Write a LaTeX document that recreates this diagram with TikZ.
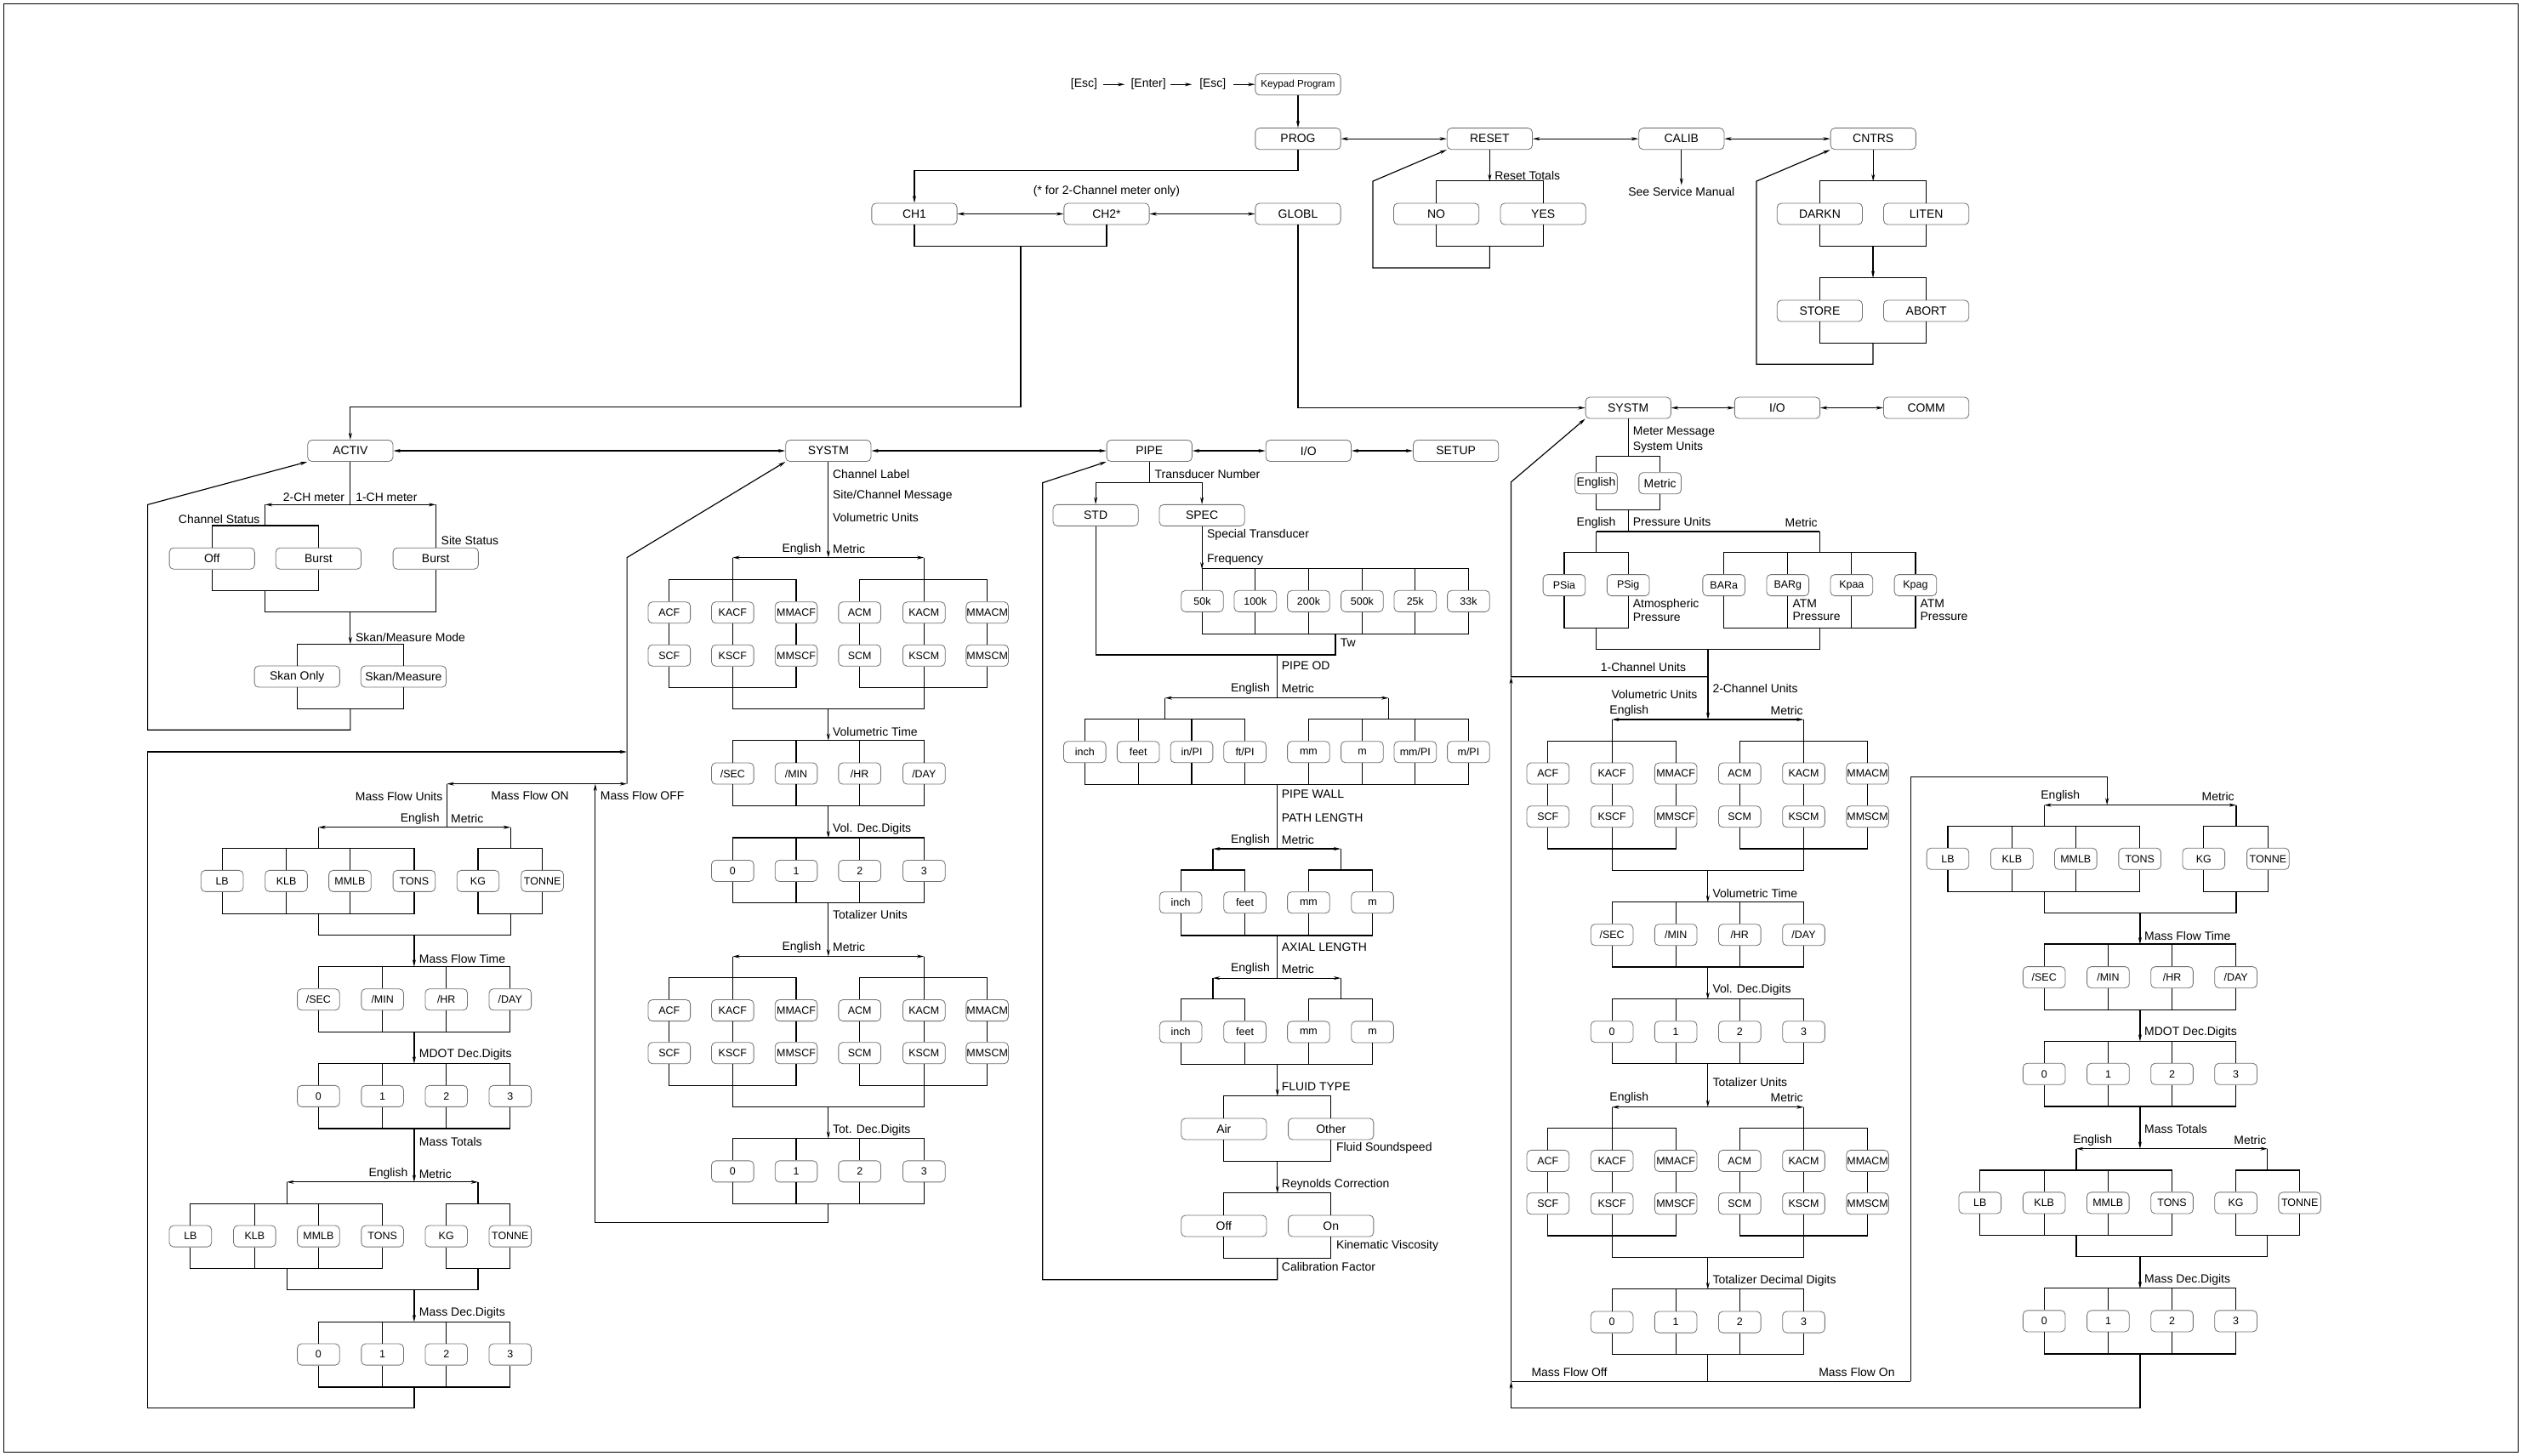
\documentclass[tikz,border=0pt]{standalone}
\usepackage{fontspec}
\setmainfont{Liberation Sans}
\usetikzlibrary{arrows.meta}

\begin{document}
\begin{tikzpicture}[x=0.04cm,y=-0.04cm,>={Stealth[length=5pt,width=2.4pt]},line width=0.7pt,
  menu node/.style={draw=black!55,line width=0.5pt,fill=white,rounded corners=3pt,minimum width=2.12cm,
    minimum height=0.53cm,inner sep=0pt,font=\fontsize{8.4}{10}\selectfont},
  unit node/.style={menu node,minimum width=1.05cm,font=\fontsize{7.5}{9}\selectfont},
  note/.style={inner sep=0pt,font=\fontsize{8.4}{9.5}\selectfont},
  left note/.style={note,anchor=west},
  right note/.style={note,anchor=east}]

  \useasboundingbox (0,0) rectangle (1568,905.3);
  \draw[line width=0.8pt] (2.5,2.5) rectangle (1565.5,903);

  % top level
  \node[note] (esc1) at (674,52.5) {[Esc]};
  \node[note] (enter) at (714,52.5) {[Enter]};
  \node[note] (esc2) at (754,52.5) {[Esc]};
  \node[menu node,font=\fontsize{7}{8}\selectfont] (keypad) at (807,52.5) {Keypad Program};
  \node[menu node] (prog) at (807,86.3) {PROG};
  \node[menu node] (reset) at (926.2,86.3) {RESET};
  \node[menu node] (calib) at (1045.4,86.3) {CALIB};
  \node[menu node] (cntrs) at (1164.6,86.3) {CNTRS};
  \node[note] (twoch) at (688,119) {(* for 2-Channel meter only)};
  \node[menu node] (ch1) at (568.5,133) {CH1};
  \node[menu node] (ch2) at (688,133) {CH2*};
  \node[menu node] (globl) at (807,133) {GLOBL};
  \node[left note] (resettot) at (929,109) {Reset Totals};
  \node[menu node] (no) at (893,133) {NO};
  \node[menu node] (yes) at (959.4,133) {YES};
  \node[note,inner sep=1.5pt] (seeman) at (1045.4,119.5) {See Service Manual};
  \node[menu node] (darkn) at (1131.4,133) {DARKN};
  \node[menu node] (liten) at (1197.6,133) {LITEN};
  \node[menu node] (store) at (1131.4,193.3) {STORE};
  \node[menu node] (abort) at (1197.6,193.3) {ABORT};

  \node[menu node] (activ) at (217.8,280.3) {ACTIV};
  \node[menu node] (systm) at (515,280.3) {SYSTM};
  \node[menu node] (pipe) at (714.6,280.3) {PIPE};
  \node[menu node] (io) at (813.5,280.3) {I/O};
  \node[menu node] (setup) at (905.2,280.3) {SETUP};
  \node[menu node] (gsystm) at (1012.3,253.6) {SYSTM};
  \node[menu node] (gio) at (1105,253.6) {I/O};
  \node[menu node] (comm) at (1197.6,253.6) {COMM};

  \path[->] (esc1) edge[shorten <=4pt,shorten >=4pt] (enter)
    (enter) edge[shorten <=3pt,shorten >=5pt] (esc2)
    (esc2) edge[shorten <=5pt] (keypad)
    (keypad) edge (prog);
  \path[<->] (prog) edge (reset) (reset) edge (calib) (calib) edge (cntrs)
    (ch1) edge (ch2) (ch2) edge (globl)
    (activ) edge (systm) (systm) edge (pipe) (pipe) edge (io) (io) edge (setup)
    (gsystm) edge (gio) (gio) edge (comm);

  \coordinate (chjoin) at (634.6,153);
  \draw[->] (prog.south) -- ++(0,13.1) -| (ch1.north);
  \draw (ch1.south) -- ++(0,13.35) -| (ch2.south);
  \draw[->] (chjoin) -- ++(0,100) -| (activ.north);
  \draw[->] (globl.south) |- (gsystm.west);

  \coordinate (resetjoin) at (926.2,153);
  \coordinate (resetback) at (853.5,112.7);
  \draw[->] (reset.south) -- ++(0,19.6);
  \draw (no.north) -- ++(0,-13.9) -| (yes.north);
  \draw (no.south) -- ++(0,13.35) -| (yes.south);
  \draw[->] (resetjoin) -- ++(0,13.6) -| (resetback) -- (reset.south west);
  \draw[->] (calib.south) -- (seeman.north);

  \coordinate (cntrsjoin) at (1164.5,153);
  \coordinate (storejoin) at (1164.5,213.3);
  \coordinate (cntrsback) at (1092,112.7);
  \draw[->] (cntrs.south) -- ++(0,19.6);
  \draw (darkn.north) -- ++(0,-13.9) -| (liten.north);
  \draw (darkn.south) -- ++(0,13.35) -| (liten.south);
  \draw[->] (cntrsjoin) -- ++(0,19.8);
  \draw (store.north) -- ++(0,-13.85) -| (abort.north);
  \draw (store.south) -- ++(0,13.35) -| (abort.south);
  \draw[->] (storejoin) -- ++(0,13.2) -| (cntrsback) -- (cntrs.south west);

  % ACTIV
  \node[right note] (ch2lbl) at (214.5,309.4) {2-CH meter};
  \node[left note] (ch1lbl) at (220.9,309.4) {1-CH meter};
  \node[right note] (chstat) at (161.8,323) {Channel Status};
  \node[left note] (sitestat) at (274,336.3) {Site Status};
  \node[menu node] (chnoff) at (131.8,347.3) {Off};
  \node[menu node] (chnburst) at (198,347.3) {Burst};
  \node[menu node] (siteburst) at (270.9,347.3) {Burst};
  \node[left note] (skanmode) at (220.8,396.6) {Skan/Measure Mode};
  \node[menu node] (skanonly) at (184.7,420.7) {Skan Only};
  \node[menu node] (skanmeas) at (250.9,420.7) {Skan/Measure};

  \coordinate (meter2) at (164.9,313.8);
  \coordinate (meter1) at (270.9,313.8);
  \coordinate (statusjoin) at (164.9,367.2);
  \coordinate (modejoin) at (217.8,380.4);
  \coordinate (skanjoin) at (217.8,440.7);
  \coordinate (activback) at (91.8,313.8);
  \draw (activ.south) -- (activ.south |- meter2);
  \draw[<->] (meter2) -- (meter1);
  \draw (meter2) -- ++(0,13.2) (meter1) -- (siteburst.north);
  \draw (chnoff.north) -- ++(0,-13.6) -| (chnburst.north);
  \draw (chnoff.south) -- ++(0,13.2) -| (chnburst.south);
  \draw (statusjoin) -- ++(0,13.2) -| (siteburst.south);
  \draw[->] (modejoin) -- ++(0,20.1);
  \draw (skanonly.north) -- ++(0,-13.4) -| (skanmeas.north);
  \draw (skanonly.south) -- ++(0,13.35) -| (skanmeas.south);
  \draw[->] (skanjoin) -- ++(0,13.2) -| (activback) -- (activ.south west);

  % mass flow, channel
  \node[right note] (mfunits) at (275.5,495) {Mass Flow Units};
  \node[note] (mfonlbl) at (329.5,494.5) {Mass Flow ON};
  \node[left note] (mfofflbl) at (373,494.5) {Mass Flow OFF};
  \node[right note] (meng) at (273.5,509) {English};
  \node[left note] (mmet) at (280.1,509) {Metric};
  \node[unit node] (mlb) at (138.1,547.8) {LB};
  \node[unit node] (mklb) at (178,547.8) {KLB};
  \node[unit node] (mmmlb) at (217.6,547.8) {MMLB};
  \node[unit node] (mtons) at (257.5,547.8) {TONS};
  \node[unit node] (mkg) at (297.2,547.8) {KG};
  \node[unit node] (mtonne) at (337.2,547.8) {TONNE};
  \node[left note] (mtimelbl) at (260.4,596) {Mass Flow Time};
  \node[unit node] (msec) at (198,621.5) {/SEC};
  \node[unit node] (mmin) at (237.8,621.5) {/MIN};
  \node[unit node] (mhr) at (277.5,621.5) {/HR};
  \node[unit node] (mday) at (317.2,621.5) {/DAY};
  \node[left note] (mdotlbl) at (260.4,655.7) {MDOT Dec.Digits};
  \node[unit node] (mdot0) at (198,681.6) {0};
  \node[unit node] (mdot1) at (237.8,681.6) {1};
  \node[unit node] (mdot2) at (277.5,681.6) {2};
  \node[unit node] (mdot3) at (317.2,681.6) {3};
  \node[left note] (mtotlbl) at (260.4,709.9) {Mass Totals};
  \node[right note] (mteng) at (253.8,729.8) {English};
  \node[left note] (mtmet) at (260.3,729.8) {Metric};
  \node[unit node] (mtlb) at (118.4,768.7) {LB};
  \node[unit node] (mtklb) at (158.3,768.7) {KLB};
  \node[unit node] (mtmmlb) at (198,768.7) {MMLB};
  \node[unit node] (mttons) at (237.8,768.7) {TONS};
  \node[unit node] (mtkg) at (277.5,768.7) {KG};
  \node[unit node] (mttonne) at (317.2,768.7) {TONNE};
  \node[left note] (mdeclbl) at (260.4,816.7) {Mass Dec.Digits};
  \node[unit node] (mdec0) at (198,842.2) {0};
  \node[unit node] (mdec1) at (237.8,842.2) {1};
  \node[unit node] (mdec2) at (277.5,842.2) {2};
  \node[unit node] (mdec3) at (317.2,842.2) {3};

  \coordinate (mfoff) at (389.8,487.4);
  \coordinate (mfon) at (277.9,487.4);
  \coordinate (mfdiag) at (389.8,346.7);
  \coordinate (mfret) at (389.8,467.5);
  \coordinate (mengtop) at (198,514.4);
  \coordinate (mmettop) at (317.4,514.4);
  \coordinate (mengbot) at (198,568);
  \coordinate (mmetbot) at (317.4,568);
  \coordinate (mtimejoin) at (257.5,581.3);
  \coordinate (mdotjoin) at (257.5,641.6);
  \coordinate (mtotjoin) at (257.5,701.6);
  \coordinate (mteng1) at (178.3,735);
  \coordinate (mtmet1) at (297.2,735);
  \coordinate (mteng2) at (178.3,788.6);
  \coordinate (mtmet2) at (297.2,788.6);
  \coordinate (mdecjoin) at (257.5,802);
  \coordinate (mbackjoin) at (257.5,862.4);
  \coordinate (mback) at (91.8,467.5);
  \draw[->] (mfoff) -- (mfdiag) -- (systm.south west);
  \draw[<->] (mfon) -- (mfoff);
  \draw (mfon) -- (mfon |- mengtop);
  \draw[<->] (mengtop) -- (mmettop);
  \draw (mengtop) -- ++(0,13.25) (mmettop) -- ++(0,13.25);
  \draw (mlb.north) -- ++(0,-13.5) -| (mtons.north) (mklb.north) -- ++(0,-13.5) (mmmlb.north) -- ++(0,-13.5);
  \draw (mkg.north) -- ++(0,-13.5) -| (mtonne.north);
  \draw (mlb.south) -- ++(0,13.5) -| (mtons.south) (mklb.south) -- ++(0,13.5) (mmmlb.south) -- ++(0,13.5);
  \draw (mkg.south) -- ++(0,13.5) -| (mtonne.south);
  \draw (mengbot) -- ++(0,13.3) -| (mmetbot);
  \draw[->] (mtimejoin) -- ++(0,19.8);
  \draw (msec.north) -- ++(0,-13.5) -| (mday.north) (mmin.north) -- ++(0,-13.5) (mhr.north) -- ++(0,-13.5);
  \draw (msec.south) -- ++(0,13.45) -| (mday.south) (mmin.south) -- ++(0,13.45) (mhr.south) -- ++(0,13.45);
  \draw[->] (mdotjoin) -- ++(0,19.8);
  \draw (mdot0.north) -- ++(0,-13.5) -| (mdot3.north) (mdot1.north) -- ++(0,-13.5) (mdot2.north) -- ++(0,-13.5);
  \draw (mdot0.south) -- ++(0,13.35) -| (mdot3.south) (mdot1.south) -- ++(0,13.35) (mdot2.south) -- ++(0,13.35);
  \draw[->] (mtotjoin) -- ++(0,33.4);
  \draw[<->] (mteng1) -- (mtmet1);
  \draw (mteng1) -- ++(0,13.55) (mtmet1) -- ++(0,13.55);
  \draw (mtlb.north) -- ++(0,-13.5) -| (mttons.north) (mtklb.north) -- ++(0,-13.5) (mtmmlb.north) -- ++(0,-13.5);
  \draw (mtkg.north) -- ++(0,-13.5) -| (mttonne.north);
  \draw (mtlb.south) -- ++(0,13.25) -| (mttons.south) (mtklb.south) -- ++(0,13.25) (mtmmlb.south) -- ++(0,13.25);
  \draw (mtkg.south) -- ++(0,13.25) -| (mttonne.south);
  \draw (mteng2) -- ++(0,13.4) -| (mtmet2);
  \draw[->] (mdecjoin) -- ++(0,20);
  \draw (mdec0.north) -- ++(0,-13.5) -| (mdec3.north) (mdec1.north) -- ++(0,-13.5) (mdec2.north) -- ++(0,-13.5);
  \draw (mdec0.south) -- ++(0,13.5) -| (mdec3.south) (mdec1.south) -- ++(0,13.5) (mdec2.south) -- ++(0,13.5);
  \draw[->] (mbackjoin) -- ++(0,13.2) -| (mback) -- (mfret);

  % SYSTM, channel
  \node[left note] (chlabel) at (517.5,294.7) {Channel Label};
  \node[left note] (sitemsg) at (517.5,308.5) {Site/Channel Message};
  \node[left note] (volunits) at (517.5,321.7) {Volumetric Units};
  \node[right note] (veng) at (510.8,341.6) {English};
  \node[left note] (vmet) at (517.5,341.6) {Metric};
  \node[unit node] (vacf) at (416.1,380.9) {ACF};
  \node[unit node] (vkacf) at (455.5,380.9) {KACF};
  \node[unit node] (vmmacf) at (495,380.9) {MMACF};
  \node[unit node] (vacm) at (534.5,380.9) {ACM};
  \node[unit node] (vkacm) at (574.5,380.9) {KACM};
  \node[unit node] (vmmacm) at (613.8,380.9) {MMACM};
  \node[unit node] (vscf) at (416.1,407.6) {SCF};
  \node[unit node] (vkscf) at (455.5,407.6) {KSCF};
  \node[unit node] (vmmscf) at (495,407.6) {MMSCF};
  \node[unit node] (vscm) at (534.5,407.6) {SCM};
  \node[unit node] (vkscm) at (574.5,407.6) {KSCM};
  \node[unit node] (vmmscm) at (613.8,407.6) {MMSCM};
  \node[left note] (vtimelbl) at (517.5,455.3) {Volumetric Time};
  \node[unit node] (vsec) at (455.5,481) {/SEC};
  \node[unit node] (vmin) at (495,481) {/MIN};
  \node[unit node] (vhr) at (534.5,481) {/HR};
  \node[unit node] (vday) at (574.5,481) {/DAY};
  \node[left note] (vdeclbl) at (517.5,515.6) {Vol. Dec.Digits};
  \node[unit node] (vdig0) at (455.5,541.5) {0};
  \node[unit node] (vdig1) at (495,541.5) {1};
  \node[unit node] (vdig2) at (534.5,541.5) {2};
  \node[unit node] (vdig3) at (574.5,541.5) {3};
  \node[left note] (ttotlbl) at (517.5,569) {Totalizer Units};
  \node[right note] (teng) at (510.8,589) {English};
  \node[left note] (tmet) at (517.5,589) {Metric};
  \node[unit node] (tacf) at (416.1,628.3) {ACF};
  \node[unit node] (tkacf) at (455.5,628.3) {KACF};
  \node[unit node] (tmmacf) at (495,628.3) {MMACF};
  \node[unit node] (tacm) at (534.5,628.3) {ACM};
  \node[unit node] (tkacm) at (574.5,628.3) {KACM};
  \node[unit node] (tmmacm) at (613.8,628.3) {MMACM};
  \node[unit node] (tscf) at (416.1,654.8) {SCF};
  \node[unit node] (tkscf) at (455.5,654.8) {KSCF};
  \node[unit node] (tmmscf) at (495,654.8) {MMSCF};
  \node[unit node] (tscm) at (534.5,654.8) {SCM};
  \node[unit node] (tkscm) at (574.5,654.8) {KSCM};
  \node[unit node] (tmmscm) at (613.8,654.8) {MMSCM};
  \node[left note] (tdeclbl) at (517.5,703) {Tot. Dec.Digits};
  \node[unit node] (tdig0) at (455.5,728.4) {0};
  \node[unit node] (tdig1) at (495,728.4) {1};
  \node[unit node] (tdig2) at (534.5,728.4) {2};
  \node[unit node] (tdig3) at (574.5,728.4) {3};

  \coordinate (vunits) at (515,346.7);
  \coordinate (vengtop) at (455.5,346.7);
  \coordinate (vmettop) at (574.5,346.7);
  \coordinate (vtimejoin) at (515,440.7);
  \coordinate (vdecjoin) at (515,500.9);
  \coordinate (ttotjoin) at (515,561.1);
  \coordinate (tengtop) at (455.5,594.7);
  \coordinate (tmettop) at (574.5,594.7);
  \coordinate (tdecjoin) at (515,688.2);
  \coordinate (vmassjoin) at (515,748.3);
  \coordinate (mfoffup) at (370.1,487.4);
  \draw[->] (systm.south) -- (vunits);
  \draw[<->] (vengtop) -- (vmettop);
  \draw (vengtop) -- (vkacf.north) (vmettop) -- (vkacm.north);
  \draw (vacf.north) -- ++(0,-13.75) -| (vmmacf.north);
  \draw (vacm.north) -- ++(0,-13.75) -| (vmmacm.north);
  \draw (vacf) -- (vscf) (vkacf) -- (vkscf) (vmmacf) -- (vmmscf) (vacm) -- (vscm) (vkacm) -- (vkscm) (vmmacm) -- (vmmscm);
  \draw (vscf.south) -- ++(0,13.25) -| (vmmscf.south);
  \draw (vscm.south) -- ++(0,13.25) -| (vmmscm.south);
  \draw (vkscf.south) -- ++(0,26.45) -| (vkscm.south);
  \draw[->] (vtimejoin) -- ++(0,19.8);
  \draw (vsec.north) -- ++(0,-13.9) -| (vday.north) (vmin.north) -- ++(0,-13.9) (vhr.north) -- ++(0,-13.9);
  \draw (vsec.south) -- ++(0,13.3) -| (vday.south) (vmin.south) -- ++(0,13.3) (vhr.south) -- ++(0,13.3);
  \draw[->] (vdecjoin) -- ++(0,20.2);
  \draw (vdig0.north) -- ++(0,-13.75) -| (vdig3.north) (vdig1.north) -- ++(0,-13.75) (vdig2.north) -- ++(0,-13.75);
  \draw (vdig0.south) -- ++(0,12.95) -| (vdig3.south) (vdig1.south) -- ++(0,12.95) (vdig2.south) -- ++(0,12.95);
  \draw[->] (ttotjoin) -- ++(0,33.6);
  \draw[<->] (tengtop) -- (tmettop);
  \draw (tengtop) -- (tkacf.north) (tmettop) -- (tkacm.north);
  \draw (tacf.north) -- ++(0,-13.75) -| (tmmacf.north);
  \draw (tacm.north) -- ++(0,-13.75) -| (tmmacm.north);
  \draw (tacf) -- (tscf) (tkacf) -- (tkscf) (tmmacf) -- (tmmscf) (tacm) -- (tscm) (tkacm) -- (tkscm) (tmmacm) -- (tmmscm);
  \draw (tscf.south) -- ++(0,13.55) -| (tmmscf.south);
  \draw (tscm.south) -- ++(0,13.55) -| (tmmscm.south);
  \draw (tkscf.south) -- ++(0,26.75) -| (tkscm.south);
  \draw[->] (tdecjoin) -- ++(0,19.8);
  \draw (tdig0.north) -- ++(0,-13.75) -| (tdig3.north) (tdig1.north) -- ++(0,-13.75) (tdig2.north) -- ++(0,-13.75);
  \draw (tdig0.south) -- ++(0,13.25) -| (tdig3.south) (tdig1.south) -- ++(0,13.25) (tdig2.south) -- ++(0,13.25);
  \draw[->] (vmassjoin) -- ++(0,11.7) -| (mfoffup);

  % PIPE
  \node[left note] (tnumlbl) at (717.7,294.7) {Transducer Number};
  \node[menu node] (std) at (681.2,320.4) {STD};
  \node[menu node] (spec) at (747.3,320.4) {SPEC};
  \node[left note] (speclbl) at (750.2,332.8) {Special Transducer};
  \node[left note] (freqlbl) at (750.2,348.1) {Frequency};
  \node[unit node] (f50) at (747.5,373.8) {50k};
  \node[unit node] (f100) at (780.5,373.8) {100k};
  \node[unit node] (f200) at (813.6,373.8) {200k};
  \node[unit node] (f500) at (846.9,373.8) {500k};
  \node[unit node] (f25) at (879.9,373.8) {25k};
  \node[unit node] (f33) at (913,373.8) {33k};
  \node[left note] (twlbl) at (833,399.8) {Tw};
  \node[left note] (odlbl) at (796.6,413.7) {PIPE OD};
  \node[right note] (odeng) at (789.8,428.3) {English};
  \node[left note] (odmet) at (796.6,428.3) {Metric};
  \node[unit node] (odinch) at (674.4,467.6) {inch};
  \node[unit node] (odfeet) at (707.7,467.6) {feet};
  \node[unit node] (odinpi) at (740.9,467.6) {in/PI};
  \node[unit node] (odftpi) at (774,467.6) {ft/PI};
  \node[unit node] (odmm) at (813.6,467.6) {mm};
  \node[unit node] (odm) at (846.9,467.6) {m};
  \node[unit node] (odmmpi) at (879.9,467.6) {mm/PI};
  \node[unit node] (odmpi) at (913,467.6) {m/PI};
  \node[left note] (walllbl) at (796.6,493.6) {PIPE WALL};
  \node[left note] (pathlbl) at (796.6,508.8) {PATH LENGTH};
  \node[right note] (pleng) at (789.8,522.2) {English};
  \node[left note] (plmet) at (796.6,522.2) {Metric};
  \node[unit node] (plinch) at (734.1,561.2) {inch};
  \node[unit node] (plfeet) at (774,561.2) {feet};
  \node[unit node] (plmm) at (813.6,561.2) {mm};
  \node[unit node] (plm) at (853.3,561.2) {m};
  \node[left note] (axiallbl) at (796.6,589.1) {AXIAL LENGTH};
  \node[right note] (aleng) at (789.8,602.5) {English};
  \node[left note] (almet) at (796.6,602.5) {Metric};
  \node[unit node] (alinch) at (734.1,641.7) {inch};
  \node[unit node] (alfeet) at (774,641.7) {feet};
  \node[unit node] (almm) at (813.6,641.7) {mm};
  \node[unit node] (alm) at (853.3,641.7) {m};
  \node[left note] (fluidlbl) at (796.6,675.8) {FLUID TYPE};
  \node[menu node] (air) at (760.9,702) {Air};
  \node[menu node] (other) at (827.5,702) {Other};
  \node[left note] (soundlbl) at (830.5,714.1) {Fluid Soundspeed};
  \node[left note] (reylbl) at (796.6,736.4) {Reynolds Correction};
  \node[menu node] (reyoff) at (760.9,762.3) {Off};
  \node[menu node] (reyon) at (827.5,762.3) {On};
  \node[left note] (kinlbl) at (830.5,774.6) {Kinematic Viscosity};
  \node[left note] (callbl) at (796.6,787.9) {Calibration Factor};

  \coordinate (tnum) at (714.6,300.2);
  \coordinate (twjoin) at (830.3,394);
  \coordinate (odjoin) at (794.2,407.2);
  \coordinate (odengtop) at (724.3,434);
  \coordinate (odmettop) at (863.3,434);
  \coordinate (pljoin) at (794.2,487.6);
  \coordinate (plengtop) at (754.1,527.8);
  \coordinate (plmettop) at (833.6,527.8);
  \coordinate (aljoin) at (794.2,581.5);
  \coordinate (alengtop) at (754.1,608.2);
  \coordinate (almettop) at (833.6,608.2);
  \coordinate (fluidjoin) at (794.2,661.6);
  \coordinate (reyjoin) at (794.2,722);
  \coordinate (calfjoin) at (794.2,782.1);
  \coordinate (pipeback) at (648.2,300.2);
  \draw (pipe.south) -- (tnum);
  \draw[->] (tnum) -| (std.north);
  \draw[->] (tnum) -| (spec.north);
  \draw[->] (spec.south) -- ++(0,26.75);
  \draw (f50.north) -- ++(0,-13.4) -| (f33.north) (f100.north) -- ++(0,-13.4) (f200.north) -- ++(0,-13.4)
    (f500.north) -- ++(0,-13.4) (f25.north) -- ++(0,-13.4);
  \draw (f50.south) -- ++(0,13.55) -| (f33.south) (f100.south) -- ++(0,13.55) (f200.south) -- ++(0,13.55)
    (f500.south) -- ++(0,13.55) (f25.south) -- ++(0,13.55);
  \draw (twjoin) -- ++(0,13.2) -| (std.south);
  \draw (odjoin) -- (odjoin |- odengtop);
  \draw[<->] (odengtop) -- (odmettop);
  \draw (odengtop) -- ++(0,13.4) (odmettop) -- ++(0,13.4);
  \draw (odinch.north) -- ++(0,-13.55) -| (odftpi.north) (odfeet.north) -- ++(0,-13.55) (odinpi.north) -- ++(0,-13.55);
  \draw (odmm.north) -- ++(0,-13.55) -| (odmpi.north) (odm.north) -- ++(0,-13.55) (odmmpi.north) -- ++(0,-13.55);
  \draw (odinch.south) -- ++(0,13.35) -| (odmpi.south) (odfeet.south) -- ++(0,13.35) (odinpi.south) -- ++(0,13.35)
    (odftpi.south) -- ++(0,13.35) (odmm.south) -- ++(0,13.35) (odm.south) -- ++(0,13.35) (odmmpi.south) -- ++(0,13.35);
  \draw (pljoin) -- (pljoin |- plengtop);
  \draw[<->] (plengtop) -- (plmettop);
  \draw (plengtop) -- ++(0,13.4) (plmettop) -- ++(0,13.4);
  \draw (plinch.north) -- ++(0,-13.35) -| (plfeet.north);
  \draw (plmm.north) -- ++(0,-13.35) -| (plm.north);
  \draw (plinch.south) -- ++(0,13.65) -| (plm.south) (plfeet.south) -- ++(0,13.65) (plmm.south) -- ++(0,13.65);
  \draw (aljoin) -- (aljoin |- alengtop);
  \draw[<->] (alengtop) -- (almettop);
  \draw (alengtop) -- ++(0,13.3) (almettop) -- ++(0,13.3);
  \draw (alinch.north) -- ++(0,-13.55) -| (alfeet.north);
  \draw (almm.north) -- ++(0,-13.55) -| (alm.north);
  \draw (alinch.south) -- ++(0,13.25) -| (alm.south) (alfeet.south) -- ++(0,13.25) (almm.south) -- ++(0,13.25);
  \draw[->] (fluidjoin) -- ++(0,20);
  \draw (air.north) -- ++(0,-13.75) -| (other.north);
  \draw (air.south) -- ++(0,13.35) -| (other.south);
  \draw[->] (reyjoin) -- ++(0,19.9);
  \draw (reyoff.north) -- ++(0,-13.75) -| (reyon.north);
  \draw (reyoff.south) -- ++(0,13.15) -| (reyon.south);
  \draw[->] (calfjoin) -- ++(0,13.7) -| (pipeback) -- (pipe.south west);

  % SYSTM, global
  \node[left note] (metermsg) at (1015,268.5) {Meter Message};
  \node[left note] (sysunits) at (1015,278.2) {System Units};
  \node[unit node,font=\fontsize{8.4}{10}\selectfont] (seng) at (992.4,300.5) {English};
  \node[unit node,font=\fontsize{8.4}{10}\selectfont] (smet) at (1032.1,300.5) {Metric};
  \node[note] (preseng) at (992.4,325.2) {English};
  \node[left note] (preslbl) at (1015,324.5) {Pressure Units};
  \node[note] (presmet) at (1119.9,325) {Metric};
  \node[unit node] (psia) at (972.5,363.9) {PSia};
  \node[unit node] (psig) at (1012.3,363.9) {PSig};
  \node[unit node] (bara) at (1071.8,363.9) {BARa};
  \node[unit node] (barg) at (1111.5,363.9) {BARg};
  \node[unit node] (kpaa) at (1151.2,363.9) {Kpaa};
  \node[unit node] (kpag) at (1190.9,363.9) {Kpag};
  \node[left note,align=left] (atmlbl) at (1015,379.3) {Atmospheric\\Pressure};
  \node[left note,align=left] (barglbl) at (1114.3,379.3) {ATM\\Pressure};
  \node[left note,align=left] (kpaglbl) at (1193.6,379.3) {ATM\\Pressure};
  \node[note] (ch1units) at (1021.7,415.1) {1-Channel Units};
  \node[left note] (ch2units) at (1064.5,428.3) {2-Channel Units};
  \node[note] (gvollbl) at (1028.6,431.9) {Volumetric Units};
  \node[note] (gueng) at (1012.9,442.1) {English};
  \node[note] (gumet) at (1110.9,442.1) {Metric};
  \node[unit node] (gacf) at (962.4,481) {ACF};
  \node[unit node] (gkacf) at (1002.2,481) {KACF};
  \node[unit node] (gmmacf) at (1041.9,481) {MMACF};
  \node[unit node] (gacm) at (1081.6,481) {ACM};
  \node[unit node] (gkacm) at (1121.4,481) {KACM};
  \node[unit node] (gmmacm) at (1161.1,481) {MMACM};
  \node[unit node] (gscf) at (962.4,507.8) {SCF};
  \node[unit node] (gkscf) at (1002.2,507.8) {KSCF};
  \node[unit node] (gmmscf) at (1041.9,507.8) {MMSCF};
  \node[unit node] (gscm) at (1081.6,507.8) {SCM};
  \node[unit node] (gkscm) at (1121.4,507.8) {KSCM};
  \node[unit node] (gmmscm) at (1161.1,507.8) {MMSCM};
  \node[left note] (gtimelbl) at (1064.5,555.8) {Volumetric Time};
  \node[unit node] (gsec) at (1002.2,581.3) {/SEC};
  \node[unit node] (gmin) at (1041.9,581.3) {/MIN};
  \node[unit node] (ghr) at (1081.6,581.3) {/HR};
  \node[unit node] (gday) at (1121.4,581.3) {/DAY};
  \node[left note] (gdeclbl) at (1064.5,615.7) {Vol. Dec.Digits};
  \node[unit node] (gvol0) at (1002.2,641.6) {0};
  \node[unit node] (gvol1) at (1041.9,641.6) {1};
  \node[unit node] (gvol2) at (1081.6,641.6) {2};
  \node[unit node] (gvol3) at (1121.4,641.6) {3};
  \node[left note] (gtotlbl) at (1064.5,672.8) {Totalizer Units};
  \node[note] (gteng) at (1012.9,682.7) {English};
  \node[note] (gtmet) at (1110.9,682.7) {Metric};
  \node[unit node] (gtacf) at (962.4,721.8) {ACF};
  \node[unit node] (gtkacf) at (1002.2,721.8) {KACF};
  \node[unit node] (gtmmacf) at (1041.9,721.8) {MMACF};
  \node[unit node] (gtacm) at (1081.6,721.8) {ACM};
  \node[unit node] (gtkacm) at (1121.4,721.8) {KACM};
  \node[unit node] (gtmmacm) at (1161.1,721.8) {MMACM};
  \node[unit node] (gtscf) at (962.4,748.4) {SCF};
  \node[unit node] (gtkscf) at (1002.2,748.4) {KSCF};
  \node[unit node] (gtmmscf) at (1041.9,748.4) {MMSCF};
  \node[unit node] (gtscm) at (1081.6,748.4) {SCM};
  \node[unit node] (gtkscm) at (1121.4,748.4) {KSCM};
  \node[unit node] (gtmmscm) at (1161.1,748.4) {MMSCM};
  \node[left note] (gtdeclbl) at (1064.5,796.4) {Totalizer Decimal Digits};
  \node[unit node] (gtot0) at (1002.2,822.1) {0};
  \node[unit node] (gtot1) at (1041.9,822.1) {1};
  \node[unit node] (gtot2) at (1081.6,822.1) {2};
  \node[unit node] (gtot3) at (1121.4,822.1) {3};
  \node[note] (mfofflbl2) at (975.7,853.2) {Mass Flow Off};
  \node[note] (mfonlbl2) at (1154.4,853.2) {Mass Flow On};

  \coordinate (sunits) at (1012.3,283.8);
  \coordinate (presjoin) at (1012.3,316.9);
  \coordinate (presengtop) at (992.4,330.5);
  \coordinate (presmettop) at (1131.4,330.5);
  \coordinate (presengbot) at (992.4,390.4);
  \coordinate (presmetbot) at (1131.4,390.4);
  \coordinate (chanjoin) at (1061.9,403.7);
  \coordinate (chan1) at (1061.9,420.8);
  \coordinate (chanback) at (939.5,420.8);
  \coordinate (gsysback) at (939.5,299.7);
  \coordinate (guengtop) at (1002.2,447.4);
  \coordinate (gumettop) at (1121.4,447.4);
  \coordinate (gtimejoin) at (1061.8,541.2);
  \coordinate (gvoljoin) at (1061.8,601.1);
  \coordinate (gtotjoin) at (1061.8,661);
  \coordinate (gtengtop) at (1002.2,688.4);
  \coordinate (gtmettop) at (1121.4,688.4);
  \coordinate (gtdecjoin) at (1061.8,781.8);
  \coordinate (gmassjoin) at (1061.8,842);
  \coordinate (mfoffleft) at (939.5,859);
  \coordinate (mfonright) at (1187.8,859);
  \draw (gsystm.south) -- (sunits);
  \draw (seng.north) -- ++(0,-10.1) -| (smet.north);
  \draw (seng.south) -- ++(0,9.8) -| (smet.south);
  \draw (presjoin) -- (presjoin |- presengtop);
  \draw (presengtop) -- (presmettop);
  \draw (presengtop) -- ++(0,13.2) (presmettop) -- ++(0,13.2);
  \draw (psia.north) -- ++(0,-13.55) -| (psig.north);
  \draw (bara.north) -- ++(0,-13.55) -| (kpag.north) (barg.north) -- ++(0,-13.55) (kpaa.north) -- ++(0,-13.55);
  \draw (psia.south) -- ++(0,19.85) -| (psig.south);
  \draw (bara.south) -- ++(0,19.85) -| (kpag.south) (barg.south) -- ++(0,19.85) (kpaa.south) -- ++(0,19.85);
  \draw (presengbot) -- ++(0,13.3) -| (presmetbot);
  \draw[->] (chanjoin) -- ++(0,43.7);
  \draw[->] (chan1) -- (chanback) -- (gsysback) -- (gsystm.south west);
  \draw[<->] (guengtop) -- (gumettop);
  \draw (guengtop) -- (gkacf.north) (gumettop) -- (gkacm.north);
  \draw (gacf.north) -- ++(0,-13.35) -| (gmmacf.north);
  \draw (gacm.north) -- ++(0,-13.35) -| (gmmacm.north);
  \draw (gacf) -- (gscf) (gkacf) -- (gkscf) (gmmacf) -- (gmmscf) (gacm) -- (gscm) (gkacm) -- (gkscm) (gmmacm) -- (gmmscm);
  \draw (gscf.south) -- ++(0,13.15) -| (gmmscf.south);
  \draw (gscm.south) -- ++(0,13.15) -| (gmmscm.south);
  \draw (gkscf.south) -- ++(0,26.75) -| (gkscm.south);
  \draw[->] (gtimejoin) -- ++(0,19.9);
  \draw (gsec.north) -- ++(0,-13.55) -| (gday.north) (gmin.north) -- ++(0,-13.55) (ghr.north) -- ++(0,-13.55);
  \draw (gsec.south) -- ++(0,13.15) -| (gday.south) (gmin.south) -- ++(0,13.15) (ghr.south) -- ++(0,13.15);
  \draw[->] (gvoljoin) -- ++(0,20.3);
  \draw (gvol0.north) -- ++(0,-13.55) -| (gvol3.north) (gvol1.north) -- ++(0,-13.55) (gvol2.north) -- ++(0,-13.55);
  \draw (gvol0.south) -- ++(0,12.75) -| (gvol3.south) (gvol1.south) -- ++(0,12.75) (gvol2.south) -- ++(0,12.75);
  \draw[->] (gtotjoin) -- ++(0,27.4);
  \draw[<->] (gtengtop) -- (gtmettop);
  \draw (gtengtop) -- (gtkacf.north) (gtmettop) -- (gtkacm.north);
  \draw (gtacf.north) -- ++(0,-13.55) -| (gtmmacf.north);
  \draw (gtacm.north) -- ++(0,-13.55) -| (gtmmacm.north);
  \draw (gtacf) -- (gtscf) (gtkacf) -- (gtkscf) (gtmmacf) -- (gtmmscf) (gtacm) -- (gtscm) (gtkacm) -- (gtkscm) (gtmmacm) -- (gtmmscm);
  \draw (gtscf.south) -- ++(0,13.15) -| (gtmmscf.south);
  \draw (gtscm.south) -- ++(0,13.15) -| (gtmmscm.south);
  \draw (gtkscf.south) -- ++(0,26.75) -| (gtkscm.south);
  \draw[->] (gtdecjoin) -- ++(0,19.9);
  \draw (gtot0.north) -- ++(0,-13.75) -| (gtot3.north) (gtot1.north) -- ++(0,-13.75) (gtot2.north) -- ++(0,-13.75);
  \draw (gtot0.south) -- ++(0,13.25) -| (gtot3.south) (gtot1.south) -- ++(0,13.25) (gtot2.south) -- ++(0,13.25);
  \draw (gmassjoin) -- ++(0,17);
  \draw (mfoffleft) -- (mfonright);
  \draw[->] (mfoffleft) -- (chanback);

  % mass flow, global
  \node[note] (reng) at (1281,495) {English};
  \node[note] (rmet) at (1379,495) {Metric};
  \node[unit node] (rlb) at (1211,534) {LB};
  \node[unit node] (rklb) at (1250.9,534) {KLB};
  \node[unit node] (rmmlb) at (1290.5,534) {MMLB};
  \node[unit node] (rtons) at (1330.4,534) {TONS};
  \node[unit node] (rkg) at (1370.1,534) {KG};
  \node[unit node] (rtonne) at (1410.1,534) {TONNE};
  \node[left note] (rtimelbl) at (1333,582.2) {Mass Flow Time};
  \node[unit node] (rsec) at (1270.9,607.7) {/SEC};
  \node[unit node] (rmin) at (1310.7,607.7) {/MIN};
  \node[unit node] (rhr) at (1350.4,607.7) {/HR};
  \node[unit node] (rday) at (1390.1,607.7) {/DAY};
  \node[left note] (rmdotlbl) at (1333,641.9) {MDOT Dec.Digits};
  \node[unit node] (rmdot0) at (1270.9,667.8) {0};
  \node[unit node] (rmdot1) at (1310.7,667.8) {1};
  \node[unit node] (rmdot2) at (1350.4,667.8) {2};
  \node[unit node] (rmdot3) at (1390.1,667.8) {3};
  \node[left note] (rtotlbl) at (1333,702) {Mass Totals};
  \node[note] (rteng) at (1301,709.1) {English};
  \node[note] (rtmet) at (1399,709.1) {Metric};
  \node[unit node] (rtlb) at (1231,748) {LB};
  \node[unit node] (rtklb) at (1270.9,748) {KLB};
  \node[unit node] (rtmmlb) at (1310.6,748) {MMLB};
  \node[unit node] (rttons) at (1350.4,748) {TONS};
  \node[unit node] (rtkg) at (1390.1,748) {KG};
  \node[unit node] (rttonne) at (1429.8,748) {TONNE};
  \node[left note] (rdeclbl) at (1333,796) {Mass Dec.Digits};
  \node[unit node] (rdec0) at (1270.9,821.5) {0};
  \node[unit node] (rdec1) at (1310.7,821.5) {1};
  \node[unit node] (rdec2) at (1350.4,821.5) {2};
  \node[unit node] (rdec3) at (1390.1,821.5) {3};

  \coordinate (rentry) at (1310,483);
  \coordinate (rengtop) at (1270.9,500.6);
  \coordinate (rmettop) at (1390.3,500.6);
  \coordinate (rengbot) at (1270.9,554.15);
  \coordinate (rmetbot) at (1390.3,554.15);
  \coordinate (rtimejoin) at (1330.5,567.5);
  \coordinate (rmdotjoin) at (1330.5,627.8);
  \coordinate (rtotjoin) at (1330.5,687.8);
  \coordinate (rtengtop) at (1290.9,714.3);
  \coordinate (rtmettop) at (1409.8,714.3);
  \coordinate (rtengbot) at (1290.9,767.9);
  \coordinate (rtmetbot) at (1409.8,767.9);
  \coordinate (rdecjoin) at (1330.5,781.3);
  \coordinate (rbackjoin) at (1330.5,841.7);
  \draw (mfonright) |- (rentry);
  \draw[->] (rentry) -- (rentry |- rengtop);
  \draw[<->] (rengtop) -- (rmettop);
  \draw (rengtop) -- ++(0,13.25) (rmettop) -- ++(0,13.25);
  \draw (rlb.north) -- ++(0,-13.5) -| (rtons.north) (rklb.north) -- ++(0,-13.5) (rmmlb.north) -- ++(0,-13.5);
  \draw (rkg.north) -- ++(0,-13.5) -| (rtonne.north);
  \draw (rlb.south) -- ++(0,13.5) -| (rtons.south) (rklb.south) -- ++(0,13.5) (rmmlb.south) -- ++(0,13.5);
  \draw (rkg.south) -- ++(0,13.5) -| (rtonne.south);
  \draw (rengbot) -- ++(0,13.35) -| (rmetbot);
  \draw[->] (rtimejoin) -- ++(0,19.7);
  \draw (rsec.north) -- ++(0,-13.85) -| (rday.north) (rmin.north) -- ++(0,-13.85) (rhr.north) -- ++(0,-13.85);
  \draw (rsec.south) -- ++(0,13.45) -| (rday.south) (rmin.south) -- ++(0,13.45) (rhr.south) -- ++(0,13.45);
  \draw[->] (rmdotjoin) -- ++(0,19.8);
  \draw (rmdot0.north) -- ++(0,-13.55) -| (rmdot3.north) (rmdot1.north) -- ++(0,-13.55) (rmdot2.north) -- ++(0,-13.55);
  \draw (rmdot0.south) -- ++(0,13.35) -| (rmdot3.south) (rmdot1.south) -- ++(0,13.35) (rmdot2.south) -- ++(0,13.35);
  \draw[->] (rtotjoin) -- ++(0,26.5);
  \draw[<->] (rtengtop) -- (rtmettop);
  \draw (rtengtop) -- ++(0,13.6) (rtmettop) -- ++(0,13.6);
  \draw (rtlb.north) -- ++(0,-13.45) -| (rttons.north) (rtklb.north) -- ++(0,-13.45) (rtmmlb.north) -- ++(0,-13.45);
  \draw (rtkg.north) -- ++(0,-13.45) -| (rttonne.north);
  \draw (rtlb.south) -- ++(0,13.25) -| (rttons.south) (rtklb.south) -- ++(0,13.25) (rtmmlb.south) -- ++(0,13.25);
  \draw (rtkg.south) -- ++(0,13.25) -| (rttonne.south);
  \draw (rtengbot) -- ++(0,13.4) -| (rtmetbot);
  \draw[->] (rdecjoin) -- ++(0,20);
  \draw (rdec0.north) -- ++(0,-13.55) -| (rdec3.north) (rdec1.north) -- ++(0,-13.55) (rdec2.north) -- ++(0,-13.55);
  \draw (rdec0.south) -- ++(0,13.55) -| (rdec3.south) (rdec1.south) -- ++(0,13.55) (rdec2.south) -- ++(0,13.55);
  \draw[->] (rbackjoin) -- ++(0,34) -| (mfoffleft);

\end{tikzpicture}
\end{document}
